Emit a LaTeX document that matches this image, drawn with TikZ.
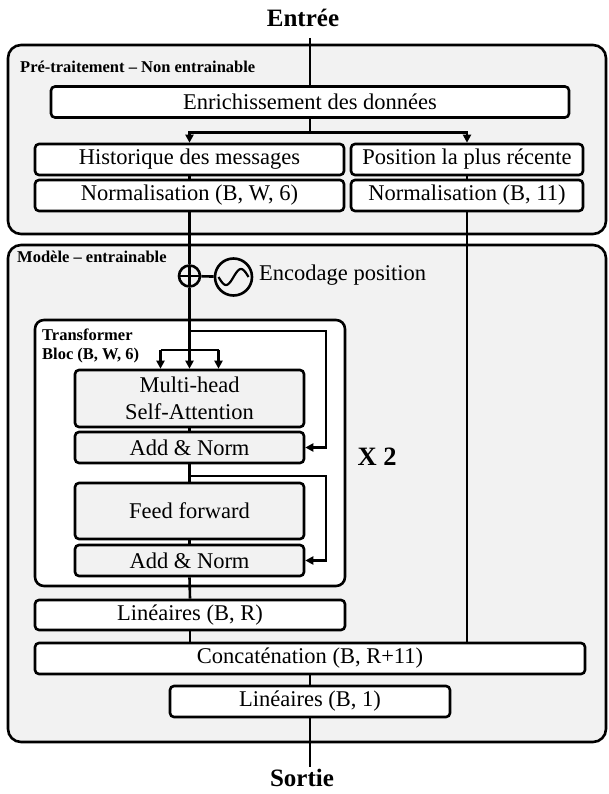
\documentclass[tikz,border=0pt]{standalone}
\usepackage{fontspec}
\setmainfont{Liberation Serif}
\usetikzlibrary{arrows.meta}
\definecolor{bggray}{RGB}{242,242,242}

\begin{document}
\begin{tikzpicture}[x=1pt,y=-1pt,
    bigbox/.style={draw,line width=2.6pt,rounded corners=13pt,fill=bggray},
    tbox/.style={draw,line width=2.6pt,rounded corners=9pt,fill=white},
    box/.style={draw,line width=2.6pt,rounded corners=4pt,fill=white,minimum height=31pt,inner sep=0pt,font=\fontsize{22.5}{27}\selectfont},
    gbox/.style={box,fill=bggray},
    lbl/.style={anchor=west,inner sep=0pt,font=\bfseries\fontsize{16.5}{18}\selectfont},
    ttl/.style={inner sep=0pt,font=\bfseries\fontsize{25}{27}\selectfont},
    link/.style={line width=2.6pt},
    arr/.style={link,-{Triangle[length=8pt,width=8pt]}}]
\useasboundingbox (0,0) rectangle (608,794);

% Pre-traitement %
\draw[bigbox] (8,45) rectangle (606,234);
\node[lbl] (lpre) at (20,67) {Pré-traitement – Non entrainable};
\node[ttl] (entree) at (303,18) {Entrée};
\node[box,minimum width=518pt] (enrich) at (310,102) {Enrichissement des données};
\node[box,minimum width=309pt] (hist) at (189.5,159.5) {Historique des messages};
\node[box,minimum width=232pt] (pos) at (467,159.5) {Position la plus récente};
\node[box,minimum width=309pt] (normA) at (189.5,195.5) {Normalisation (B, W, 6)};
\node[box,minimum width=232pt] (normB) at (467,195.5) {Normalisation (B, 11)};
\draw[link] (310,38) -- (enrich.north);
\draw[link] (enrich.south) -- ++(0,14) coordinate (split);
\draw[arr] (split) -| (hist.north);
\draw[arr] (split) -| (pos.north);
\draw[link] (hist.south) -- (normA.north);
\draw[link] (pos.south) -- (normB.north);

% Modele %
\draw[bigbox] (8,245) rectangle (606,742);
\node[lbl] (lmod) at (17,257) {Modèle – entrainable};
\node[draw,circle,line width=2.6pt,minimum size=21pt,inner sep=0pt,
      path picture={\draw[line width=2.6pt] (path picture bounding box.west) -- (path picture bounding box.east)
                    (path picture bounding box.north) -- (path picture bounding box.south);}]
      (plus) at (189.5,276) {};
\node[draw,circle,line width=2.6pt,minimum size=37pt,inner sep=0pt] (wave) at (233.5,277) {};
\draw[line width=2.2pt,domain=-15:15,smooth,variable=\x] plot ({233.5+\x},{277-8*sin(\x/15*180)});
\node[anchor=west,inner sep=0pt,font=\fontsize{22.5}{27}\selectfont] (lenc) at (259,275) {Encodage position};
\draw[link] (plus) -- (wave);

% Transformer %
\draw[tbox] (35,320) rectangle (345,586);
\node[lbl] (ltr) at (42,335) {Transformer};
\node[lbl] (lbloc) at (42,356) {Bloc (B, W, 6)};
\node[gbox,minimum width=229pt,minimum height=57pt,align=center] (mhsa) at (189.5,398.5) {Multi-head\\Self-Attention};
\node[gbox,minimum width=229pt] (an1) at (189.5,447.5) {Add \& Norm};
\node[gbox,minimum width=229pt,minimum height=56pt] (ff) at (189.5,511) {Feed forward};
\node[gbox,minimum width=229pt] (an2) at (189.5,560.5) {Add \& Norm};
\node[ttl,font=\bfseries\fontsize{26.5}{28}\selectfont] (rep) at (377,457) {X 2};
\draw[link] (normA.south) -- (plus.north);
\draw[arr] (plus.south) -- (mhsa.north);
\coordinate (s2) at (189.5,350);
\draw[link] ([xshift=-29pt]s2) -- ([xshift=29pt]s2);
\draw[arr] ([xshift=-29pt]s2) -- ([xshift=-29pt]mhsa.north);
\draw[arr] ([xshift=29pt]s2) -- ([xshift=29pt]mhsa.north);
\coordinate (r1) at (326,331);
\draw[arr] (s2 |- r1) -- (r1) |- (an1.east);
\draw[link] (mhsa.south) -- (an1.north);
\draw[link] (an1.south) -- (ff.north);
\coordinate (r2) at (326,476);
\draw[arr] (s2 |- r2) -- (r2) |- (an2.east);
\draw[link] (ff.south) -- (an2.north);

% Sortie %
\node[box,minimum width=310pt,minimum height=30pt] (linR) at (190,615) {Linéaires (B, R)};
\node[box,minimum width=550pt] (concat) at (310,658.5) {Concaténation (B, R+11)};
\node[box,minimum width=280pt] (lin1) at (310,701.5) {Linéaires (B, 1)};
\node[ttl] (sortie) at (302,778) {Sortie};
\draw[link] (an2.south) -- (linR.north);
\draw[link] (linR.south) -- (linR.south |- concat.north);
\draw[link] (normB.south) -- (normB.south |- concat.north);
\draw[link] (concat.south -| lin1.north) -- (lin1.north);
\draw[link] (lin1.south) -- (310,767);
\end{tikzpicture}
\end{document}
